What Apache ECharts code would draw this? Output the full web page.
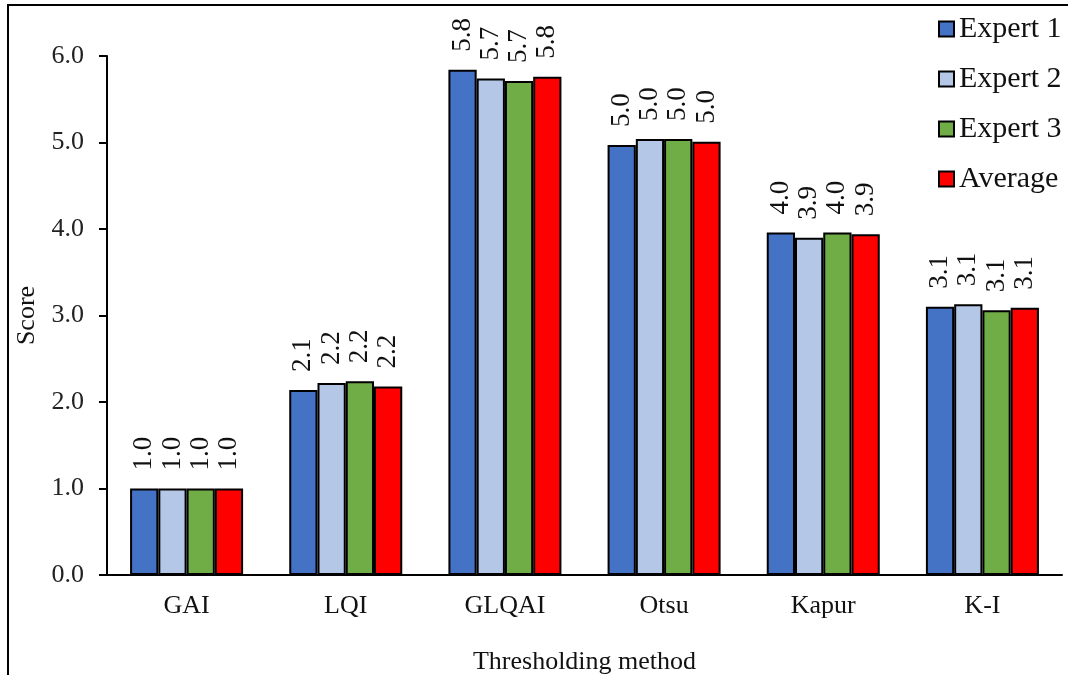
<!DOCTYPE html>
<html>
<head>
<meta charset="utf-8">
<script src="https://cdn.jsdelivr.net/npm/echarts@6/dist/echarts.min.js"></script>
<style>
  html, body { margin: 0; padding: 0; background: #fff; }
  #chart { width: 1068px; height: 675px; }
</style>
</head>
<body>
<div id="chart"></div>
<script>
// categories and scores
var methods = ['GAI', 'LQI', 'GLQAI', 'Otsu', 'Kapur', 'K-I'];
var expert1 = [1.00, 2.14, 5.84, 4.97, 3.96, 3.10];
var expert2 = [1.00, 2.22, 5.74, 5.04, 3.90, 3.13];
var expert3 = [1.00, 2.24, 5.71, 5.04, 3.96, 3.06];
var average = [1.00, 2.18, 5.76, 5.01, 3.94, 3.09];
var seriesNames = ['Expert 1', 'Expert 2', 'Expert 3', 'Average'];
var seriesColors = ['#4472C4', '#B4C7E7', '#70AD47', '#FF0000'];

var font = 'Liberation Serif, Times New Roman, serif';
var chart = echarts.init(document.getElementById('chart'));

function makeSeries(name, data, color) {
  return {
    name: name,
    type: 'bar',
    data: data,
    barGap: '0%',
    barCategoryGap: '29%',
    itemStyle: { color: color, borderColor: '#000', borderWidth: 2 },
    label: {
      show: true,
      position: 'top',
      rotate: 90,
      align: 'left',
      verticalAlign: 'middle',
      distance: 18,
      fontFamily: font,
      fontSize: 27,
      color: '#111',
      formatter: function (p) { return p.value.toFixed(1); }
    }
  };
}

var option = {
  animation: false,
  backgroundColor: '#fff',
  color: seriesColors,
  grid: { left: 107, right: 6, top: 56, bottom: 100, outerBoundsMode: 'none' },
  graphic: [{
    type: 'rect',
    shape: { x: 8, y: 5, width: 1100, height: 700 },
    style: { fill: 'none', stroke: '#000', lineWidth: 2 },
    z: -1
  }],
  legend: {
    data: seriesNames,
    orient: 'vertical',
    left: 933,
    top: 9,
    itemWidth: 15,
    itemHeight: 15,
    itemGap: 20,
    icon: 'rect',
    textStyle: { fontFamily: font, fontSize: 30, color: '#111' }
  },
  xAxis: {
    type: 'category',
    data: methods,
    name: 'Thresholding method',
    nameLocation: 'middle',
    nameGap: 74,
    nameTextStyle: { fontFamily: font, fontSize: 26, color: '#111' },
    axisLine: { lineStyle: { color: '#000', width: 2 } },
    axisTick: { show: false },
    axisLabel: { fontFamily: font, fontSize: 26, color: '#111', margin: 18 }
  },
  yAxis: {
    type: 'value',
    min: 0,
    max: 6,
    interval: 1,
    name: 'Score',
    nameLocation: 'middle',
    nameGap: 60,
    nameTextStyle: { fontFamily: font, fontSize: 26, color: '#111' },
    axisLine: { show: true, lineStyle: { color: '#000', width: 2 } },
    axisTick: { show: true, length: 8, lineStyle: { color: '#000', width: 2 } },
    splitLine: { show: false },
    axisLabel: {
      fontFamily: font, fontSize: 26, color: '#222', margin: 23,
      formatter: function (v) { return v.toFixed(1); }
    }
  },
  series: [
    makeSeries(seriesNames[0], expert1, seriesColors[0]),
    makeSeries(seriesNames[1], expert2, seriesColors[1]),
    makeSeries(seriesNames[2], expert3, seriesColors[2]),
    makeSeries(seriesNames[3], average, seriesColors[3])
  ]
};

chart.setOption(option);
</script>
</body>
</html>
